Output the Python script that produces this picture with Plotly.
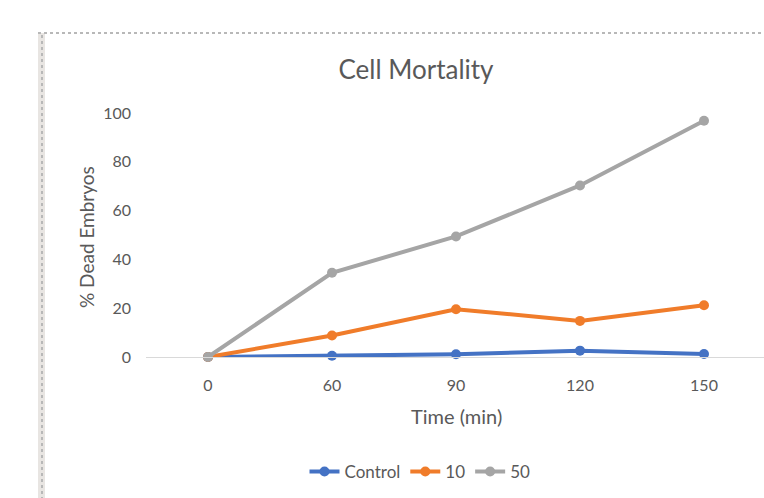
import plotly.graph_objects as go

# Sampling times (min) and mortality (% dead embryos) per treatment
times = ["0", "60", "90", "120", "150"]
control = [0, 0.5, 1.1, 2.6, 1.2]
dose_10 = [0, 8.8, 19.6, 14.8, 21.2]
dose_50 = [0, 34.5, 49.4, 70.3, 96.8]
series_names = ["Control", "10", "50"]
series_colors = ["#4472C4", "#F07C2A", "#A5A5A5"]
y_ticks = [0, 20, 40, 60, 80, 100]

W, H = 764, 498
L, R, T, B = 146, 0, 113, 141
plot_w = W - L - R
plot_h = H - T - B

def px_x(p):
    return (p - L) / plot_w

def px_y(p):
    return (H - B - p) / plot_h

FONT = "Lato"
TXT = "#595959"

fig = go.Figure()
for name, vals, col in zip(series_names, [control, dose_10, dose_50], series_colors):
    fig.add_trace(go.Scatter(
        x=times, y=vals, name=name, mode="lines+markers",
        line=dict(color=col, width=4),
        marker=dict(color=col, size=10),
        cliponaxis=False,
    ))

fig.update_layout(
    width=W, height=H,
    margin=dict(l=L, r=R, t=T, b=B),
    paper_bgcolor="white", plot_bgcolor="white",
    font=dict(family=FONT, color=TXT, size=16),
    title=dict(text="Cell Mortality", x=416 / W, xref="container", xanchor="center",
               y=1 - 70 / H, yref="container", yanchor="middle",
               font=dict(family=FONT, size=26, color=TXT)),
    xaxis=dict(type="category", range=[-0.5, (W - 208) / 124.0],
               showline=True, linecolor="#d9d9d9", linewidth=1,
               showgrid=False, zeroline=False, ticks="",
               ticklabelstandoff=14, tickfont=dict(size=16, color=TXT)),
    yaxis=dict(range=[0, 100], tickvals=y_ticks, showgrid=False, zeroline=False,
               showline=False, ticks="", ticklabelstandoff=14,
               tickfont=dict(size=16, color=TXT)),
    legend=dict(orientation="h", x=420 / W, xanchor="center", xref="container",
                y=1 - 472 / H, yanchor="middle", yref="container",
                font=dict(size=17, color=TXT), bgcolor="rgba(0,0,0,0)"),
    showlegend=True,
)

# axis titles
fig.add_annotation(text="Time (min)", xref="paper", yref="paper",
                   x=px_x(456), y=px_y(416), xanchor="center", yanchor="middle",
                   showarrow=False, font=dict(family=FONT, size=20, color=TXT))
fig.add_annotation(text="% Dead Embryos", xref="paper", yref="paper",
                   x=px_x(86), y=px_y(237), xanchor="center", yanchor="middle",
                   showarrow=False, textangle=-90,
                   font=dict(family=FONT, size=19, color=TXT))

# chart frame: shaded left strip and dotted border
fig.add_shape(type="rect", xref="paper", yref="paper",
              x0=px_x(38), x1=px_x(45), y0=px_y(H + 2), y1=px_y(33),
              fillcolor="#e8e5e2", line=dict(width=0), layer="below")
fig.add_shape(type="line", xref="paper", yref="paper",
              x0=px_x(42), x1=px_x(42), y0=px_y(H + 2), y1=px_y(33),
              line=dict(color="#b8b8b8", width=2, dash="dot"))
fig.add_shape(type="line", xref="paper", yref="paper",
              x0=px_x(38), x1=px_x(W + 20), y0=px_y(33), y1=px_y(33),
              line=dict(color="#b8b8b8", width=2, dash="dot"))

fig.write_html("out.html", config={"displayModeBar": False})
